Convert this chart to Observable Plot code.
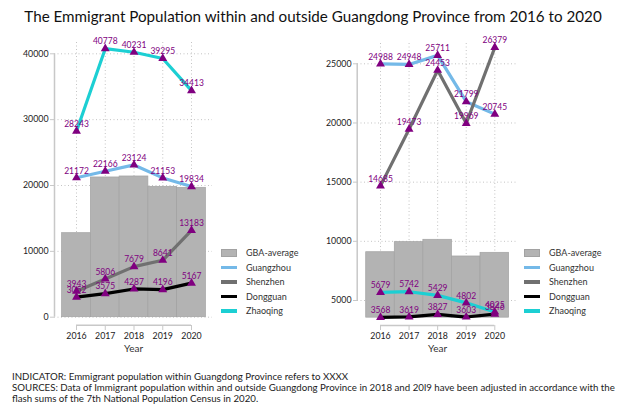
<!DOCTYPE html>
<html><head><meta charset="utf-8">
<script src="https://cdn.jsdelivr.net/npm/d3@7"></script>
<script src="https://cdn.jsdelivr.net/npm/@observablehq/plot@0.6"></script>
<style>
body{margin:0;background:#fff;width:626px;height:418px;position:relative;overflow:hidden;font-family:Lato,"Open Sans",sans-serif;color:#222}
#title{position:absolute;left:0;top:7px;width:626px;text-align:center;font-size:15.2px;color:#111;white-space:nowrap}
.panel{position:absolute;top:30px}
.legend{position:absolute;font-size:9px;color:#333}
.row{position:absolute;left:0;height:14px;white-space:nowrap}
.sw{position:absolute;left:0;width:16px}
.lt{position:absolute;left:25px;top:0;line-height:14px}
#footer{position:absolute;left:12px;top:371px;font-size:9.7px;line-height:11px;color:#222;white-space:nowrap}
</style></head><body>
<div id="title"></div>
<div id="left" class="panel" style="left:0"></div>
<div id="right" class="panel" style="left:313px"></div>
<div id="legL" class="legend" style="left:221px;top:246px"></div>
<div id="legR" class="legend" style="left:524px;top:246px"></div>
<div id="footer"></div>
<script>
const titleText = "The Emmigrant Population within and outside Guangdong Province from 2016 to 2020";
const footerLines = [
  "INDICATOR: Emmigrant population within Guangdong Province refers to XXXX",
  "SOURCES: Data of Immigrant population within and outside Guangdong Province in 2018 and 20l9 have been adjusted in accordance with the",
  "flash sums of the 7th National Population Census in 2020."
];
const years = [2016, 2017, 2018, 2019, 2020];
const barName = "GBA-average";
const seriesNames = ["Guangzhou", "Shenzhen", "Dongguan", "Zhaoqing"];
const seriesColors = ["#74b9e8", "#707070", "#000000", "#1ccfd3"];
const barColor = "#b3b3b3";
const labelColor = "#800080";

// Left panel (within Guangdong)
const leftGBA = [12760, 21220, 21370, 19800, 19650];
const leftGuangzhou = [21172, 22166, 23124, 21153, 19834];
const leftShenzhen = [3943, 5806, 7679, 8641, 13183];
const leftDongguan = [3052, 3575, 4287, 4196, 5167];
const leftZhaoqing = [28243, 40778, 40231, 39295, 34413];
const leftTicks = [0, 10000, 20000, 30000, 40000];
const leftBase = 0;

// Right panel (outside Guangdong)
const rightGBA = [9080, 9930, 10130, 8720, 9030];
const rightGuangzhou = [24988, 24948, 25711, 21799, 20745];
const rightShenzhen = [14685, 19473, 24453, 19969, 26379];
const rightDongguan = [3568, 3619, 3827, 3603, 3846];
const rightZhaoqing = [5679, 5742, 5429, 4802, 4025];
const rightTicks = [5000, 10000, 15000, 20000, 25000];
const rightBase = 3550;

document.getElementById("title").textContent = titleText;
document.getElementById("footer").innerHTML = footerLines.map(s => `<div>${s}</div>`).join("");

function drawPanel(cfg) {
  const bars = years.map((year, i) => ({year, value: cfg.gba[i]}));
  const pts = [];
  cfg.order.forEach(name => cfg.series[name].forEach((v, i) => pts.push({name, year: years[i], value: v})));
  const grid = {stroke: "#c4c4c4", strokeOpacity: 1, strokeDasharray: "1,2.5"};
  const axisStroke = "#c8c8c8";
  return Plot.plot({
    width: 313, height: 330,
    marginLeft: cfg.ml, marginRight: cfg.mr, marginTop: cfg.mt, marginBottom: 35,
    x: {domain: [2016, 2020], range: cfg.xRange},
    y: {domain: cfg.yDomain, range: cfg.yRange},
    color: {domain: seriesNames, range: seriesColors},
    style: {fontFamily: "Lato", fontSize: "8.5px", background: "transparent", overflow: "visible"},
    marks: [
      Plot.gridY(cfg.ticks, grid),
      Plot.gridX(years, {...grid, y2: cfg.base}),
      Plot.rectY(bars, {x1: d => d.year - 0.5, x2: d => d.year + 0.5, y1: cfg.base, y2: "value", fill: barColor, stroke: "#a2a2a2", strokeWidth: 0.7}),
      Plot.line(pts, {x: "year", y: "value", z: "name", stroke: "name", strokeWidth: 3.2}),
      Plot.dot(pts, {x: "year", y: "value", symbol: "triangle", r: 3.3, fill: labelColor, stroke: null}),
      Plot.text(pts, {x: "year", y: "value", text: d => String(d.value), dy: -7, fill: labelColor, fontSize: 8.5}),
      Plot.ruleX([2016], {y1: cfg.yDomain[0], y2: cfg.yDomain[1], dx: cfg.axisDx, stroke: axisStroke, strokeWidth: 1.5}),
      Plot.axisY(cfg.ticks, {tickSize: 4, tickPadding: 2, tickFormat: "d", stroke: axisStroke, fill: "#222", label: null, fontSize: 8.8}),
      Plot.ruleY([cfg.base], {x1: 2016, x2: 2020, dy: cfg.xAxisDy, stroke: axisStroke, strokeWidth: 1.5}),
      Plot.axisX(years, {tickSize: 5, tickPadding: 2, tickFormat: "d", stroke: axisStroke, fill: "#222", label: null, fontSize: 8.8}),
      Plot.text(["Year"], {text: d => d, frameAnchor: "bottom", dy: 26, fontSize: 10, fill: "#333"})
    ]
  });
}

document.getElementById("left").append(drawPanel({
  gba: leftGBA,
  series: {Guangzhou: leftGuangzhou, Shenzhen: leftShenzhen, Dongguan: leftDongguan, Zhaoqing: leftZhaoqing},
  order: ["Zhaoqing", "Guangzhou", "Shenzhen", "Dongguan"],
  ticks: leftTicks, base: leftBase,
  ml: 54, mr: 101, mt: 12,
  xRange: [76, 191],
  yDomain: [0, 40000], yRange: [286.7, 23.3],
  axisDx: -22, xAxisDy: 8
}));

document.getElementById("right").append(drawPanel({
  gba: rightGBA,
  series: {Guangzhou: rightGuangzhou, Shenzhen: rightShenzhen, Dongguan: rightDongguan, Zhaoqing: rightZhaoqing},
  order: ["Guangzhou", "Shenzhen", "Zhaoqing", "Dongguan"],
  ticks: rightTicks, base: rightBase,
  ml: 44, mr: 109, mt: 13,
  xRange: [67, 181.3],
  yDomain: [5000, 25000], yRange: [270, 33.3],
  axisDx: -23.3, xAxisDy: 7.8
}));

function legend(el) {
  const items = [{name: barName, color: barColor, bar: true}].concat(seriesNames.map((n, i) => ({name: n, color: seriesColors[i]})));
  el.innerHTML = items.map((it, i) => {
    const sw = it.bar
      ? `<div class="sw" style="top:3px;height:8px;background:${it.color};border:0.5px solid #a2a2a2;box-sizing:border-box"></div>`
      : `<div class="sw" style="top:5px;height:3.5px;background:${it.color}"></div>`;
    return `<div class="row" style="top:${i * 14.5}px">${sw}<div class="lt">${it.name}</div></div>`;
  }).join("");
}
legend(document.getElementById("legL"));
legend(document.getElementById("legR"));
</script>
</body></html>
